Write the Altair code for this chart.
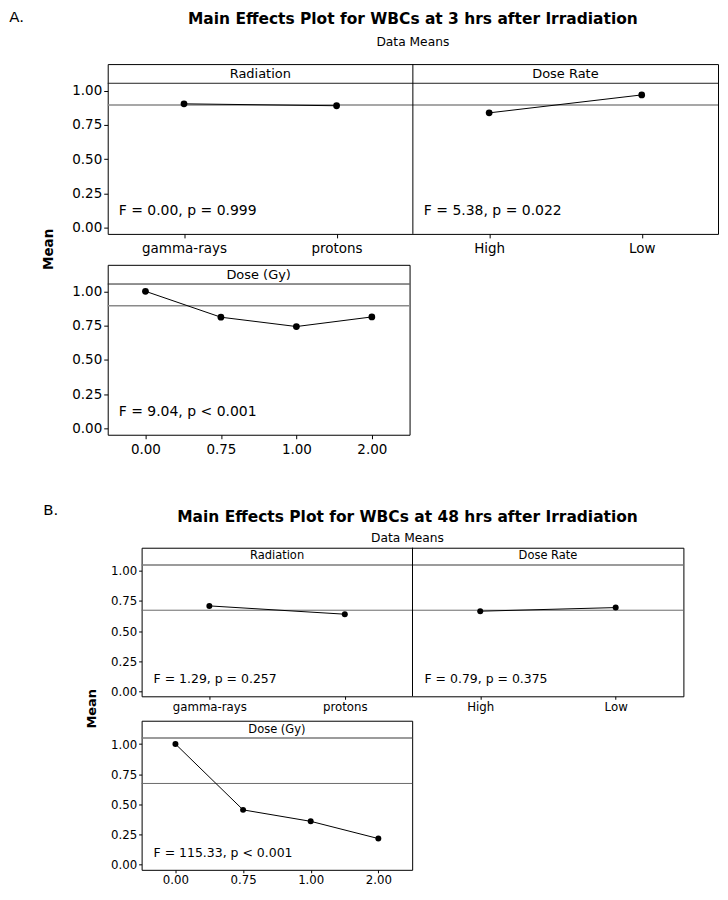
import altair as alt
import pandas as pd

# ---------------- data ----------------
radiation_levels = ["gamma-rays", "protons"]
dose_rate_levels = ["High", "Low"]
dose_levels = ["0.00", "0.75", "1.00", "2.00"]
factor_names = ["Radiation", "Dose Rate", "Dose (Gy)"]
y_ticks = [0.0, 0.25, 0.5, 0.75, 1.0]

a_title = "Main Effects Plot for WBCs at 3 hrs after Irradiation"
a_radiation_means = [0.903, 0.889]
a_dose_rate_means = [0.837, 0.968]
a_dose_means = [1.000, 0.811, 0.743, 0.813]
a_grand_mean = 0.895
a_stats = ["F = 0.00, p = 0.999", "F = 5.38, p = 0.022", "F = 9.04, p < 0.001"]

b_title = "Main Effects Plot for WBCs at 48 hrs after Irradiation"
b_radiation_means = [0.709, 0.640]
b_dose_rate_means = [0.665, 0.695]
b_dose_means = [1.000, 0.454, 0.359, 0.216]
b_grand_mean = 0.673
b_stats = ["F = 1.29, p = 0.257", "F = 0.79, p = 0.375", "F = 115.33, p < 0.001"]

FONT = "DejaVu Sans"

STYLE_A = dict(domain=[-0.046, 1.193], hdr_line=1.053, hdr_text=1.122,
               tick_fs=13.5, hdr_fs=13, stat_fs=14, ytitle_fs=13.5, pt=46,
               hdr_color="#222222", hdr_w=1, mean_color="#8a8a8a", mean_w=1.5,
               stat_x=11, stat_y=0.123, xlab_pad=4, tick=4)
STYLE_B = dict(domain=[-0.043, 1.193], hdr_line=1.05, hdr_text=1.12,
               tick_fs=11.8, hdr_fs=11.5, stat_fs=12.5, ytitle_fs=13, pt=36,
               hdr_color="#7a7a7a", hdr_w=1.5, mean_color="#6a6a6a", mean_w=1,
               stat_x=12, stat_y=0.098, xlab_pad=2, tick=3)


def section_title(text, offset, sub_pad, dx=0):
    return alt.TitleParams(text=text, subtitle="Data Means", font=FONT, fontSize=15.5,
                           fontWeight="bold", color="black", subtitleFont=FONT,
                           subtitleFontSize=12.3, subtitleColor="black", anchor="middle",
                           frame="group", offset=offset, subtitlePadding=sub_pad, dx=dx)


def row_panel(factors, grand, width, height, st, mean_pos=None, title=None, tag=None, tag_pos=(0, 0)):
    recs, order = [], []
    for name, levels, means, stat in factors:
        for lv, m in zip(levels, means):
            recs.append({"factor": name, "level": lv, "mean": m})
        order += levels
    df = pd.DataFrame(recs)
    one = pd.DataFrame({"k": [0]})
    n = len(factors)

    ysc = alt.Scale(domain=st["domain"], nice=False, zero=False)
    ax_kw = dict(values=y_ticks, format=".2f",
                 labelFontSize=st["tick_fs"], labelFont=FONT, labelColor="black",
                 tickColor="black", tickSize=st["tick"], labelPadding=2,
                 domain=False, grid=False)
    if mean_pos is not None:
        ax_kw.update(title="Mean", titleFont=FONT, titleFontSize=st["ytitle_fs"],
                     titleFontWeight="bold", titleColor="black", titleAngle=270,
                     titleAlign="center", titleBaseline="middle",
                     titleX=mean_pos[0], titleY=mean_pos[1])
    else:
        ax_kw.update(title=None)
    yax = alt.Axis(**ax_kw)

    x = alt.X("level:N", sort=order, scale=alt.Scale(type="point", padding=0.5),
              axis=alt.Axis(title=None, labelAngle=0, labelFontSize=st["tick_fs"],
                            labelFont=FONT, labelColor="black", tickColor="black",
                            tickSize=st["tick"], labelPadding=st["xlab_pad"],
                            domain=False, grid=False))
    y = alt.Y("mean:Q", scale=ysc, axis=yax)

    def yd(v):
        return alt.YDatum(v, scale=ysc, axis=yax)

    base = alt.Chart(df)
    layers = [
        alt.Chart(one).mark_rule(color=st["mean_color"], strokeWidth=st["mean_w"]).encode(y=yd(grand)),
        alt.Chart(one).mark_rule(color=st["hdr_color"], strokeWidth=st["hdr_w"]).encode(y=yd(st["hdr_line"])),
    ]
    for i in range(1, n):
        layers.append(alt.Chart(one).mark_rule(color="black", strokeWidth=1).encode(
            x=alt.value(width * i / n), y=alt.value(0), y2=alt.value(height)))
    layers.append(base.mark_line(color="black", strokeWidth=1).encode(x=x, y=y, detail="factor:N"))
    layers.append(base.mark_circle(color="black", opacity=1, size=st["pt"]).encode(x=x, y=y))
    for i, (name, levels, means, stat) in enumerate(factors):
        layers.append(alt.Chart(one).mark_text(text=name, font=FONT, fontSize=st["hdr_fs"], color="black",
                                               align="center", baseline="middle").encode(
            x=alt.value(width * (2 * i + 1) / (2 * n)), y=yd(st["hdr_text"])))
        layers.append(alt.Chart(one).mark_text(text=stat, font=FONT, fontSize=st["stat_fs"], color="black",
                                               align="left", baseline="middle").encode(
            x=alt.value(width * i / n + st["stat_x"]), y=yd(st["stat_y"])))
    if tag is not None:
        layers.append(alt.Chart(one).mark_text(text=tag, font=FONT, fontSize=15, color="black",
                                               align="left", baseline="middle").encode(
            x=alt.value(tag_pos[0]), y=alt.value(tag_pos[1])))
    props = dict(width=width, height=height)
    if title is not None:
        props["title"] = title
    return alt.layer(*layers).properties(**props)


def empty(w, h):
    one = pd.DataFrame({"k": [0]})
    return alt.Chart(one).mark_text(text="").encode(x=alt.value(0), y=alt.value(0)).properties(
        width=w, height=h, view=alt.ViewBackground(stroke="transparent"))


# ---------------- section A ----------------
rowA1 = row_panel([(factor_names[0], radiation_levels, a_radiation_means, a_stats[0]),
                   (factor_names[1], dose_rate_levels, a_dose_rate_means, a_stats[1])],
                  a_grand_mean, 612, 170.3, STYLE_A, mean_pos=(-59.7, 185.3),
                  title=section_title(a_title, 15, 9))
rowA2 = row_panel([(factor_names[2], dose_levels, a_dose_means, a_stats[2])],
                  a_grand_mean, 302.7, 170.4, STYLE_A, tag="A.", tag_pos=(-98.7, -248))
secA = alt.vconcat(rowA1, rowA2, spacing=30.3, bounds="flush")

# ---------------- section B ----------------
rowB1 = row_panel([(factor_names[0], radiation_levels, b_radiation_means, b_stats[0]),
                   (factor_names[1], dose_rate_levels, b_dose_rate_means, b_stats[1])],
                  b_grand_mean, 543.3, 149, STYLE_B, mean_pos=(-50.7, 161),
                  title=section_title(b_title, 3, 6.5, -5))
rowB2 = row_panel([(factor_names[2], dose_levels, b_dose_means, b_stats[2])],
                  b_grand_mean, 271.3, 149.5, STYLE_B, tag="B.", tag_pos=(-132.7 + 34, -211))
innerB = alt.vconcat(rowB1, rowB2, spacing=24.5, bounds="flush")
secB = alt.hconcat(empty(34, 10), innerB, spacing=0, bounds="flush")

chart = alt.vconcat(secA, secB, spacing=46).properties(
    padding=0
).configure(font=FONT).configure_view(stroke="black", strokeWidth=1)

chart.save("out.html", embed_options={"renderer": "svg", "actions": False})
